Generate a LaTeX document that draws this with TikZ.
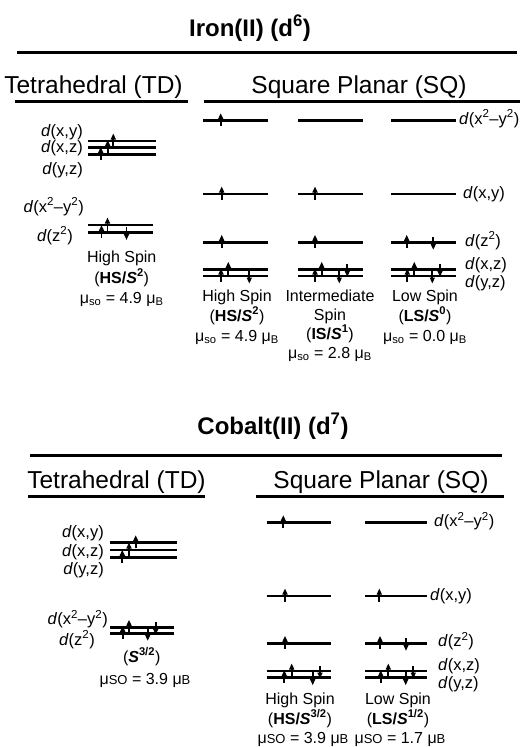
\documentclass[tikz,border=0pt]{standalone}
\usepackage{fontspec}
\setmainfont{Liberation Sans}
\usetikzlibrary{arrows.meta}
\newcommand\elup[2]{\draw[elec] (#1,#2+5.5) -- (#1,#2-7.5);}
\newcommand\eldn[2]{\draw[elec] (#1,#2-5.5) -- (#1,#2+7.5);}
\newcommand\levl[3]{\draw[lvl] (#1,#3) -- (#2,#3);}
\newcommand\smu{μ}
\begin{document}
\begin{tikzpicture}[x=1pt,y=-1pt,
  lvl/.style={line width=2.7pt},
  elec/.style={line width=1.7pt,-{Triangle[length=6pt,width=5pt]}},
  rulel/.style={line width=3pt},
  titl/.style={font=\bfseries\fontsize{24}{28}\selectfont, anchor=base, inner sep=0},
  head/.style={font=\fontsize{24.5}{28}\selectfont, anchor=base, inner sep=0},
  orb/.style={font=\fontsize{16.5}{20}\selectfont, anchor=base, inner sep=0},
  sp/.style={font=\fontsize{16}{19}\selectfont, anchor=base, inner sep=0},
]
\useasboundingbox (0,0) rectangle (520,747);
\fill[white] (0,0) rectangle (520,747);
% ================= IRON =================
\node[titl] (fetitle) at (250,36) {Iron(II) (d\textsuperscript{6})};
\draw[rulel] (17,52) -- (517,52);
\node[head] (fetdh) at (93.5,93) {Tetrahedral (TD)};
\node[head] (fesqh) at (359,93) {Square Planar (SQ)};
\draw[rulel] (15,101) -- (188,101);
\draw[rulel] (204,101) -- (520,101);
% Fe TD labels
\node[orb,anchor=base east] (fe1) at (83,136) {\textit{d}(x,y)};
\node[orb,anchor=base east] (fe2) at (83,152.5) {\textit{d}(x,z)};
\node[orb,anchor=base east] (fe3) at (83,174.5) {\textit{d}(y,z)};
\node[orb,anchor=base east] (fe4) at (84,212) {\textit{d}(x\textsuperscript{2}–y\textsuperscript{2})};
\node[orb,anchor=base east] (fe5) at (73,241) {\textit{d}(z\textsuperscript{2})};
% Fe TD levels
\levl{88}{156}{141}
\levl{88}{156}{147.5}
\levl{88}{156}{154.5}
\elup{113.3}{141}
\elup{107.7}{147.5}
\elup{100.7}{154.5}
\levl{88}{153}{225}
\levl{88}{153}{232.5}
\elup{107.5}{225}
\elup{101.5}{232.5}
\eldn{126.5}{232.5}
\node[sp] (fetd1) at (121.7,262) {High Spin};
\node[sp] (fetd2) at (121.7,283) {(\textbf{HS/\textit{S}\textsuperscript{2}})};
\node[sp] (fetd3) at (121.7,303) {\smu\textsubscript{so} = 4.9 \smu\textsubscript{B}};
% Fe SQ levels
\foreach \a/\b in {203/268,298/363,391/456}{
  \levl{\a}{\b}{120.7}
  \levl{\a}{\b}{194}
  \levl{\a}{\b}{242.3}
  \levl{\a}{\b}{269.3}
  \levl{\a}{\b}{276}
}
% col1 HS
\elup{220.7}{120.7}
\elup{221.7}{194}
\elup{221.7}{242.3}
\elup{221}{276}
\elup{228.3}{269.3}
\eldn{249.3}{276}
% col2 IS
\elup{315}{194}
\elup{315}{242.3}
\elup{315}{276}
\elup{321.7}{269.3}
\eldn{339.3}{276}
\eldn{347.3}{269.3}
% col3 LS
\elup{406.7}{242.3}
\eldn{433.3}{242.3}
\elup{407.3}{276}
\elup{414.3}{269.3}
\eldn{432.3}{276}
\eldn{440}{269.3}
% Fe SQ orbital labels
\node[orb,anchor=base west] (fs1) at (459,124) {\textit{d}(x\textsuperscript{2}–y\textsuperscript{2})};
\node[orb,anchor=base west] (fs2) at (463,198) {\textit{d}(x,y)};
\node[orb,anchor=base west] (fs3) at (465,246) {\textit{d}(z\textsuperscript{2})};
\node[orb,anchor=base west] (fs4) at (465,269) {\textit{d}(x,z)};
\node[orb,anchor=base west] (fs5) at (465,287) {\textit{d}(y,z)};
% Fe SQ spin labels
\node[sp] (fa1) at (237,301) {High Spin};
\node[sp] (fa2) at (237,321) {(\textbf{HS/\textit{S}\textsuperscript{2}})};
\node[sp] (fa3) at (237,341) {\smu\textsubscript{so} = 4.9 \smu\textsubscript{B}};
\node[sp] (fb1) at (330,301) {Intermediate};
\node[sp] (fb2) at (330,320) {Spin};
\node[sp] (fb3) at (330,339) {(\textbf{IS/\textit{S}\textsuperscript{1}})};
\node[sp] (fb4) at (330,358) {\smu\textsubscript{so} = 2.8 \smu\textsubscript{B}};
\node[sp] (fc1) at (425,301) {Low Spin};
\node[sp] (fc2) at (425,321) {(\textbf{LS/\textit{S}\textsuperscript{0}})};
\node[sp] (fc3) at (425,341) {\smu\textsubscript{so} = 0.0 \smu\textsubscript{B}};
% ================= COBALT =================
\node[titl] (cotitle) at (273,434) {Cobalt(II) (d\textsuperscript{7})};
\draw[rulel] (30,455) -- (502,455);
\node[head] (cotdh) at (116.5,488) {Tetrahedral (TD)};
\node[head] (cosqh) at (381,488) {Square Planar (SQ)};
\draw[rulel] (28,496) -- (205,496);
\draw[rulel] (256,496) -- (504,496);
% Co TD labels
\node[orb,anchor=base east] (co1) at (104,537.5) {\textit{d}(x,y)};
\node[orb,anchor=base east] (co2) at (104,556) {\textit{d}(x,z)};
\node[orb,anchor=base east] (co3) at (104,574.5) {\textit{d}(y,z)};
\node[orb,anchor=base east] (co4) at (108,624.5) {\textit{d}(x\textsuperscript{2}–y\textsuperscript{2})};
\node[orb,anchor=base east] (co5) at (95,645) {\textit{d}(z\textsuperscript{2})};
\levl{110}{176.7}{542.7}
\levl{110}{176.7}{550}
\levl{110}{176.7}{557.3}
\elup{135.7}{542.7}
\elup{129}{550}
\elup{122.3}{557.3}
\levl{110}{174}{627.3}
\levl{110}{174}{633.3}
\elup{129}{627.3}
\elup{122.7}{633.3}
\eldn{147.7}{633.3}
\eldn{155.7}{627.3}
\node[sp] (cotd1) at (141.7,662) {(\textbf{\textit{S}\textsuperscript{3/2}})};
\node[sp] (cotd2) at (145,684) {\smu{\fontsize{13}{13}\selectfont SO} = 3.9 \smu{\fontsize{13}{13}\selectfont B}};
% Co SQ levels
\foreach \a/\b in {266.7/331,365/427.3}{
  \levl{\a}{\b}{522.7}
  \levl{\a}{\b}{596}
  \levl{\a}{\b}{643.3}
  \levl{\a}{\b}{671}
  \levl{\a}{\b}{677.7}
}
\elup{283.3}{522.7}
\elup{285}{596}
\elup{285}{643.3}
\elup{284.3}{677.7}
\elup{291.7}{671}
\eldn{312.7}{677.7}
\eldn{320}{671}
\elup{379.3}{596}
\elup{380}{643.3}
\eldn{406}{643.3}
\elup{380.7}{677.7}
\elup{388.3}{671}
\eldn{405.7}{677.7}
\eldn{413.3}{671}
\node[orb,anchor=base west] (cs1) at (434,526.5) {\textit{d}(x\textsuperscript{2}–y\textsuperscript{2})};
\node[orb,anchor=base west] (cs2) at (430,600) {\textit{d}(x,y)};
\node[orb,anchor=base west] (cs3) at (438,646.5) {\textit{d}(z\textsuperscript{2})};
\node[orb,anchor=base west] (cs4) at (438,670.5) {\textit{d}(x,z)};
\node[orb,anchor=base west] (cs5) at (438,688.5) {\textit{d}(y,z)};
\node[sp] (ca1) at (300,704) {High Spin};
\node[sp] (ca2) at (300,724) {(\textbf{HS/\textit{S}\textsuperscript{3/2}})};
\node[sp] (ca3) at (303,743) {\smu{\fontsize{13}{13}\selectfont SO} = 3.9 \smu{\fontsize{13}{13}\selectfont B}};
\node[sp] (cb1) at (398,704) {Low Spin};
\node[sp] (cb2) at (398,724) {(\textbf{LS/\textit{S}\textsuperscript{1/2}})};
\node[sp] (cb3) at (400,743) {\smu{\fontsize{13}{13}\selectfont SO} = 1.7 \smu{\fontsize{13}{13}\selectfont B}};
\end{tikzpicture}
\end{document}
